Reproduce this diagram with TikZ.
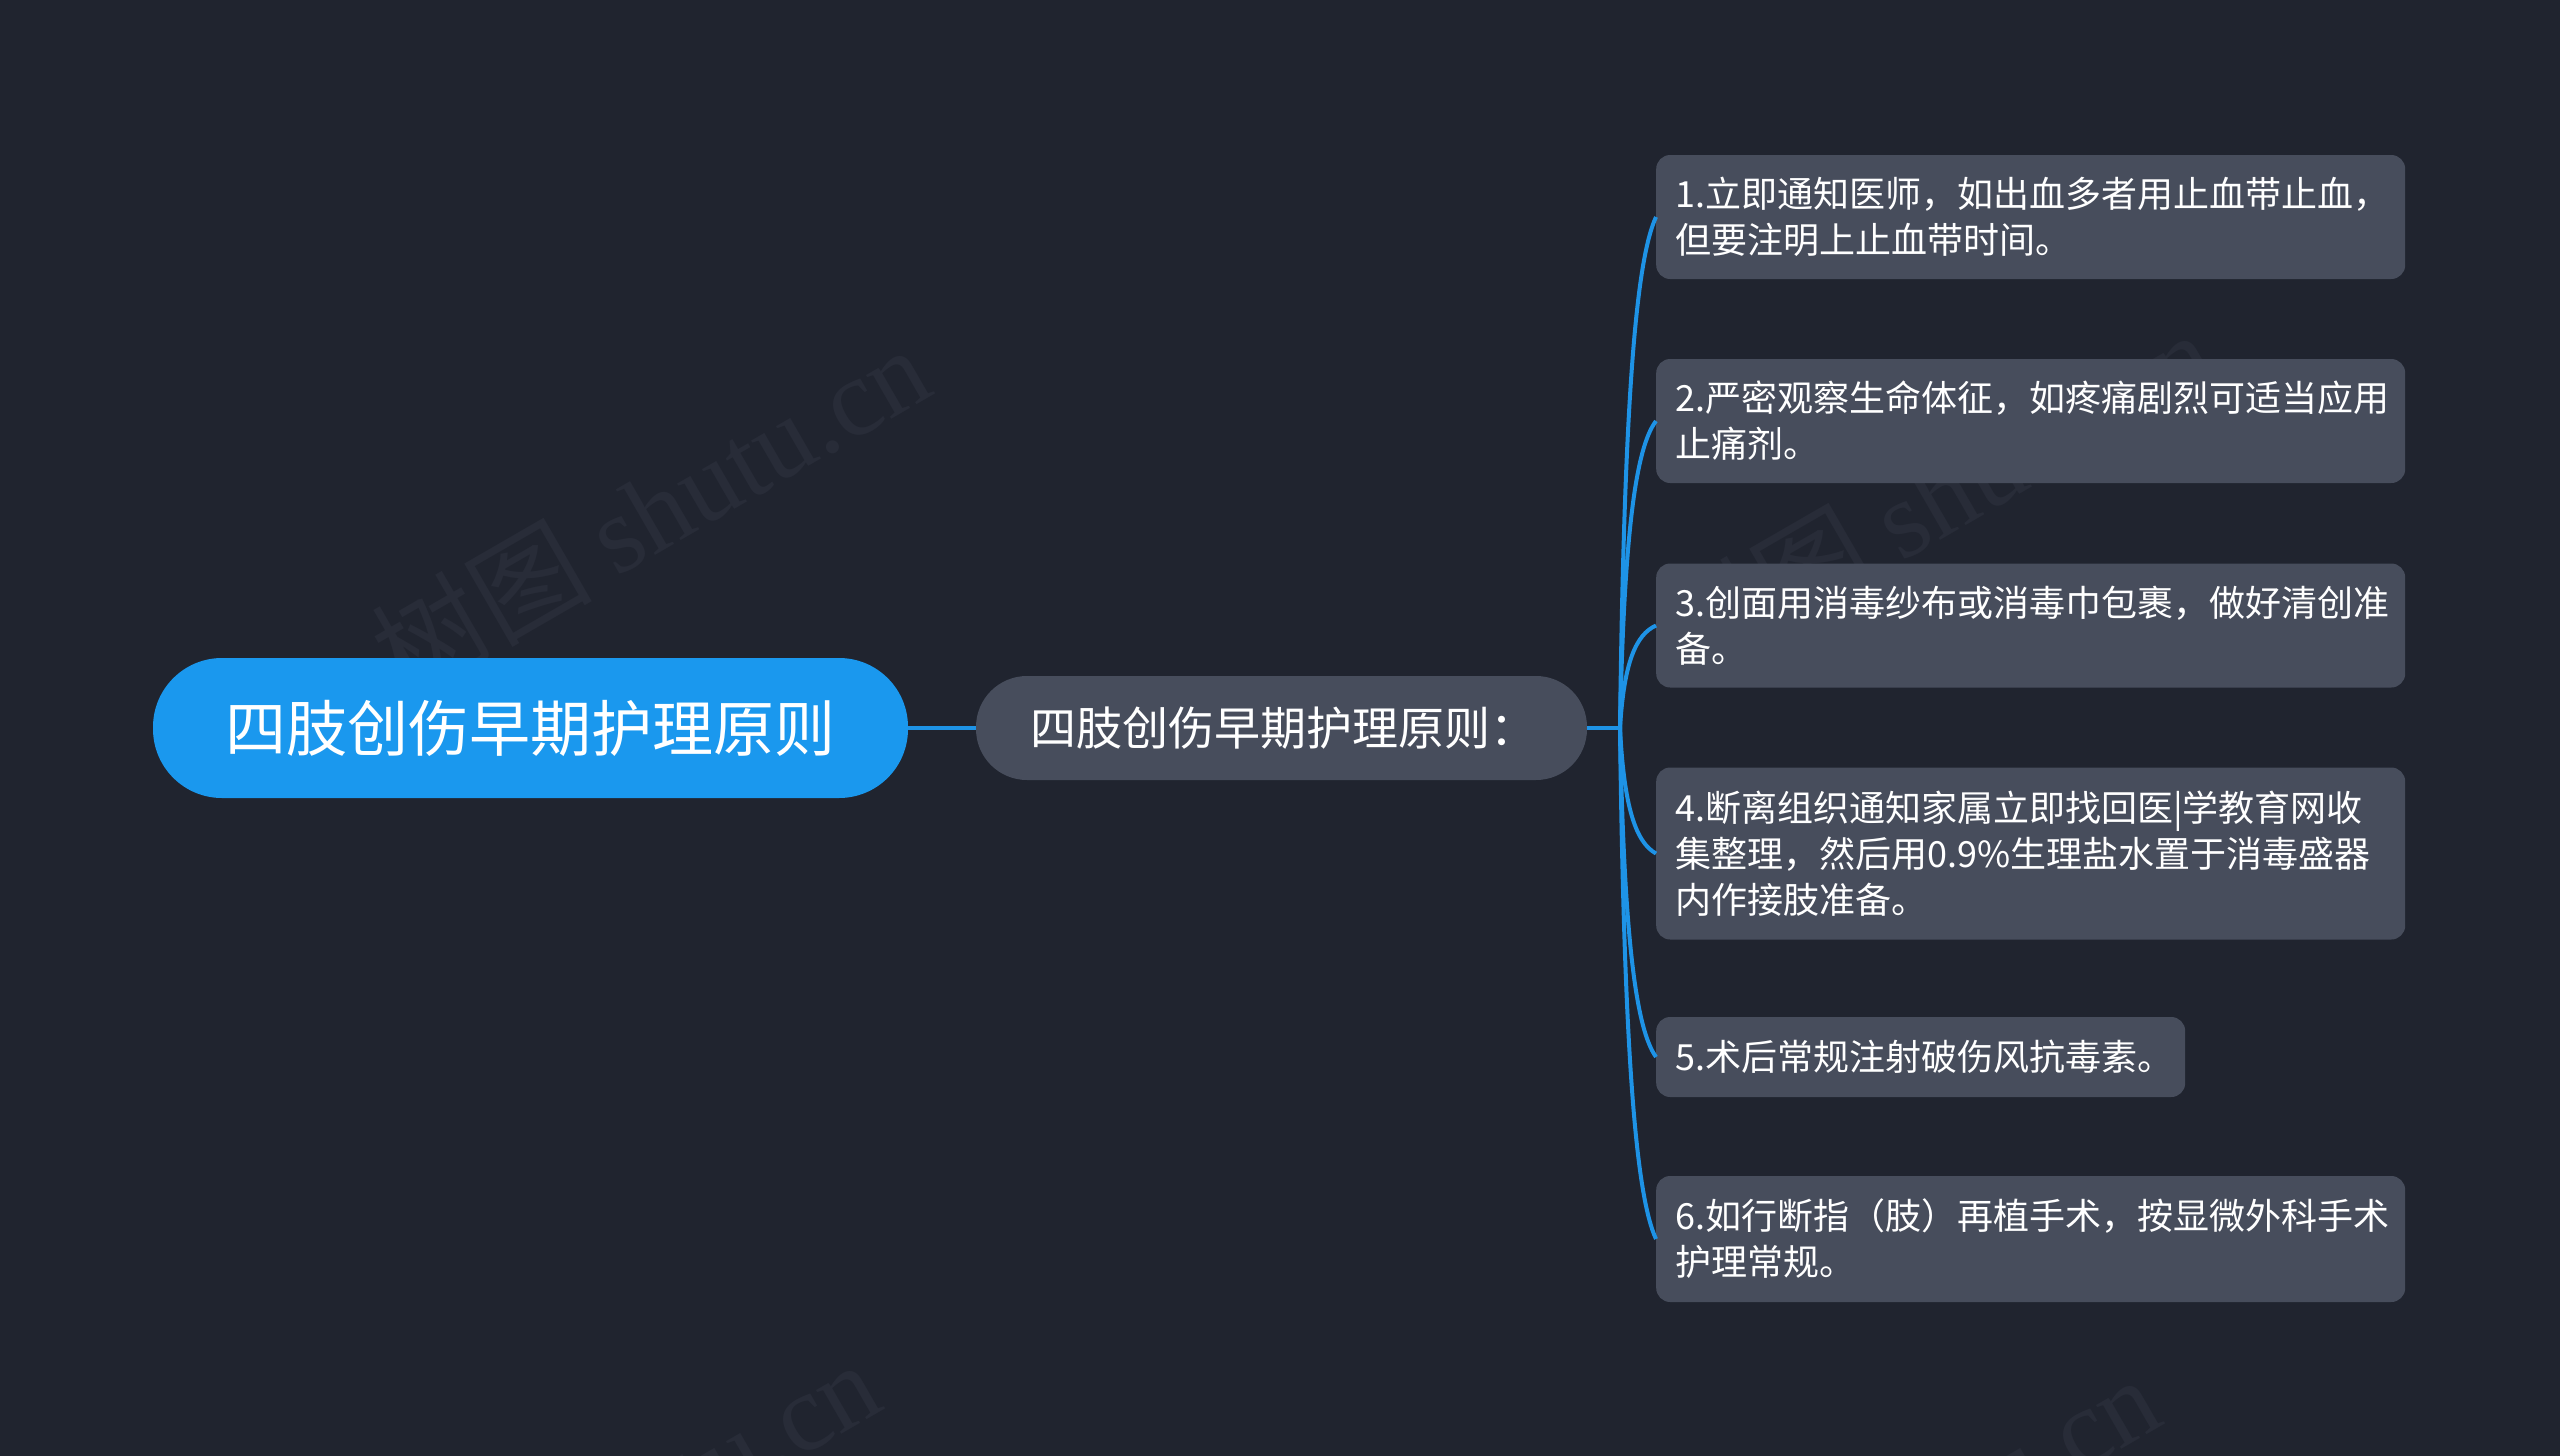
\documentclass[tikz,border=0pt]{standalone}
\usepackage{fontspec}
\setmainfont{Noto Sans CJK SC}
\newfontfamily\wmfont{Liberation Serif}
\definecolor{bg}{HTML}{20242F}
\definecolor{rootblue}{HTML}{1A98EE}
\definecolor{boxgray}{HTML}{474D5C}
\definecolor{linkblue}{HTML}{1E93E6}
\definecolor{wm}{HTML}{282C38}
\begin{document}
\begin{tikzpicture}[x=1pt,y=-1pt,
  rootnode/.style={fill=rootblue, rounded corners=69pt, minimum width=755pt,
    minimum height=140pt, inner sep=0pt, text=white, font=\fontsize{61}{72}\selectfont},
  midnode/.style={fill=boxgray, rounded corners=51pt, minimum width=611pt,
    minimum height=104pt, inner xsep=54pt, inner ysep=0pt, text width=503pt,
    align=left, text=white, font=\fontsize{46}{56}\selectfont},
  leafnode/.style={fill=boxgray, rounded corners=14pt, text=white, anchor=west,
    font=\fontsize{36}{46}\selectfont, align=left, inner xsep=19pt, inner ysep=0pt},
  link/.style={draw=linkblue, line width=4pt},
  wmark/.style={text=wm, rotate=30, font=\fontsize{110}{120}\selectfont}
]
\fill[bg] (0,0) rectangle (2560,1456);
\useasboundingbox (0,0) rectangle (2560,1456);
\begin{scope}
\clip (0,0) rectangle (2560,1456);
\node[wmark] (wm1) at (650,510) {树图 {\wmfont shutu.cn}};
\node[wmark] (wm2) at (1935,495) {树图 {\wmfont shutu.cn}};
\node[wmark] (wm3) at (600,1525) {树图 {\wmfont shutu.cn}};
\node[wmark] (wm4) at (1880,1540) {树图 {\wmfont shutu.cn}};
\end{scope}

\node[rootnode] (root) at (530.5,728) {四肢创伤早期护理原则};
\node[midnode] (mid) at (1281.5,728) {四肢创伤早期护理原则：};
\coordinate (hub) at (1620,728);

\node[leafnode, text width=711pt, minimum height=124pt] (c1) at (1656,217)
  {1.立即通知医师，如出血多者用止血带止血，\\但要注明上止血带时间。};
\node[leafnode, text width=711pt, minimum height=124pt] (c2) at (1656,421)
  {2.严密观察生命体征，如疼痛剧烈可适当应用\\止痛剂。};
\node[leafnode, text width=711pt, minimum height=124pt] (c3) at (1656,625.5)
  {3.创面用消毒纱布或消毒巾包裹，做好清创准\\备。};
\node[leafnode, text width=711pt, minimum height=172pt] (c4) at (1656,853.5)
  {4.断离组织通知家属立即找回医|学教育网收\\集整理，然后用0.9\%生理盐水置于消毒盛器\\内作接肢准备。};
\node[leafnode, text width=491pt, minimum height=80pt] (c5) at (1656,1057)
  {5.术后常规注射破伤风抗毒素。};
\node[leafnode, text width=711pt, minimum height=126pt] (c6) at (1656,1239)
  {6.如行断指（肢）再植手术，按显微外科手术\\护理常规。};

\draw[link] (root.east) -- (mid.west);
\draw[link] (mid.east) -- (hub);
\draw[link] (hub) .. controls +(4,-327) and +(-20,43) .. (c1.west);
\draw[link] (hub) .. controls +(4,-196) and +(-20,26) .. (c2.west);
\draw[link] (hub) .. controls +(4,-66) and +(-20,9) .. (c3.west);
\draw[link] (hub) .. controls +(4,80) and +(-20,-11) .. (c4.west);
\draw[link] (hub) .. controls +(4,211) and +(-20,-28) .. (c5.west);
\draw[link] (hub) .. controls +(4,327) and +(-20,-43) .. (c6.west);
\end{tikzpicture}
\end{document}
